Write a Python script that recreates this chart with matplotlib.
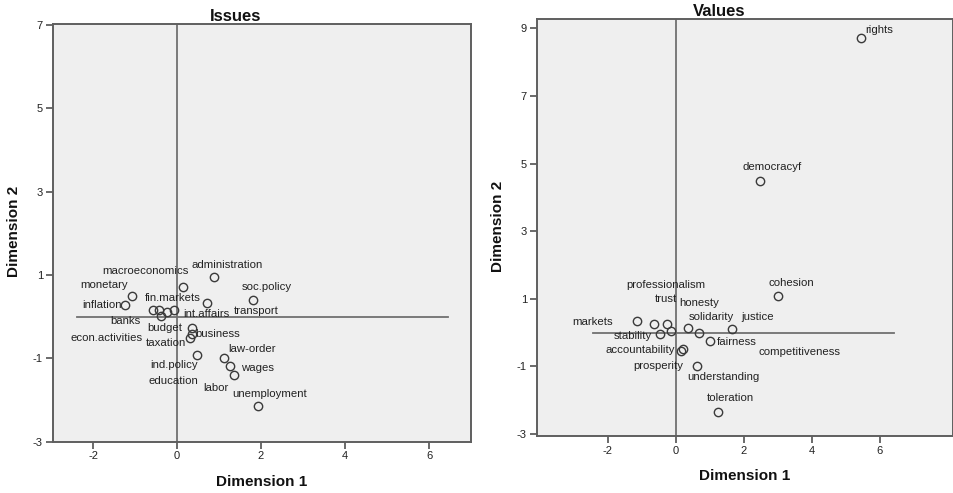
import matplotlib
matplotlib.use("Agg")
import matplotlib.pyplot as plt

plt.rcParams['font.family'] = ['Liberation Sans', 'DejaVu Sans']

# ---------------- data ----------------
issues_labels = ["administration", "macroeconomics", "monetary", "inflation", "soc.policy",
                 "transport", "banks", "fin.markets", "econ.activities", "int.affairs",
                 "budget", "ind.policy", "business", "taxation", "education",
                 "law-order", "wages", "labor", "unemployment"]
issues_x = [0.89, 0.15, -1.07, -1.25, 1.82, 0.71, -0.56, -0.44, -0.25, -0.06,
            -0.38, 0.36, 0.36, 0.32, 0.48, 1.11, 1.27, 1.35, 1.92]
issues_y = [0.95, 0.71, 0.49, 0.28, 0.40, 0.32, 0.15, 0.17, 0.12, 0.15,
            0.01, -0.27, -0.41, -0.51, -0.91, -1.00, -1.19, -1.39, -2.15]
# label offsets in pixels (dx, dy)
issues_off = [(13, 12), (-38, 16), (-28, 11), (-23, 0), (13, 13),
              (49, -8), (-28, -11), (14, 12), (-60, -26), (32, -4),
              (4, -12), (-18, -37), (26, 0), (-25, -5), (-24, -26),
              (28, 9), (27, -2), (-18, -13), (12, 12)]

values_labels = ["rights", "democracyf", "cohesion", "markets", "professionalism",
                 "trust", "stability", "honesty", "solidarity", "competitiveness",
                 "justice", "fairness", "accountability", "understanding",
                 "prosperity", "toleration"]
values_x = [5.46, 2.49, 3.02, -1.14, -0.63, -0.25, -0.46, -0.15, 0.35, 0.70,
            1.65, 1.02, 0.21, 0.15, 0.63, 1.24]
values_y = [8.71, 4.49, 1.07, 0.35, 0.26, 0.25, -0.04, 0.05, 0.13, -0.01,
            0.11, -0.24, -0.49, -0.54, -0.98, -2.35]
values_off = [(18, 8), (12, 14), (13, 13), (-44, -1), (12, 39),
              (-1, 25), (-27, -2), (29, 28), (24, 11), (100, -19),
              (26, 12), (26, -1), (-43, -1), (43, -26),
              (-39, 0), (13, 14)]

x_ticks = [-2, 0, 2, 4, 6]
issues_yticks = [7, 5, 3, 1, -1, -3]
values_yticks = [9, 7, 5, 3, 1, -1, -3]

# ---------------- figure ----------------
W, H = 954, 493
fig = plt.figure(figsize=(W / 100, H / 100), dpi=100)
fig.patch.set_facecolor('white')

ax1 = fig.add_axes([52.7 / W, (H - 441.7) / H, 418.3 / W, 417.7 / H])
ax2 = fig.add_axes([536.7 / W, (H - 436) / H, 416 / W, 416.7 / H])

spine_col = '#5f5f5f'
line_col = '#707070'


def style(ax, xlim, ylim, yticks, hline_range, title, title_x):
    ax.set_facecolor('#efefef')
    ax.set_xlim(*xlim)
    ax.set_ylim(*ylim)
    ax.set_xticks(x_ticks)
    ax.set_yticks(yticks)
    ax.set_xticklabels([str(t) for t in x_ticks])
    ax.set_yticklabels([str(t) for t in yticks])
    for s in ax.spines.values():
        s.set_color(spine_col)
        s.set_linewidth(1.4)
    ax.tick_params(direction='out', length=5, width=1.3, color=spine_col,
                   labelsize=8, pad=2, labelcolor='#222222')
    ax.axvline(0, color=line_col, lw=1.3, zorder=1)
    ax.plot(hline_range, [0, 0], color=line_col, lw=1.3, zorder=1)
    ax.text(title_x, 1.0, title, transform=ax.transAxes, ha='center', va='bottom',
            fontsize=12, fontweight='bold', color='#111111')
    ax.text(0.5, -0.097, 'Dimension 1', transform=ax.transAxes, ha='center',
            va='center', fontsize=11, fontweight='bold', color='#111111')
    ax.text(-0.092, 0.503, 'Dimension 2', transform=ax.transAxes, ha='center',
            va='center', rotation=90, fontsize=11, fontweight='bold', color='#111111')


style(ax1, (-2.96, 7.0), (-3.0, 7.02), issues_yticks, [-2.38, 6.46], 'Issues', 0.436)
style(ax2, (-4.09, 8.15), (-3.06, 9.27), values_yticks, [-2.44, 6.43], 'Values', 0.4375)


def draw(ax, xs, ys, labels, offs):
    ax.plot(xs, ys, linestyle='none', marker='o', markersize=6,
            markerfacecolor='none', markeredgecolor='#3a3a3a', markeredgewidth=1.0,
            zorder=3)
    for x, y, lab, (dx, dy) in zip(xs, ys, labels, offs):
        ax.annotate(lab, (x, y), xytext=(dx, dy), textcoords='offset pixels',
                    ha='center', va='center', fontsize=8.2, color='#222222',
                    zorder=4)


draw(ax1, issues_x, issues_y, issues_labels, issues_off)
draw(ax2, values_x, values_y, values_labels, values_off)

fig.savefig('out.png', dpi=100)
